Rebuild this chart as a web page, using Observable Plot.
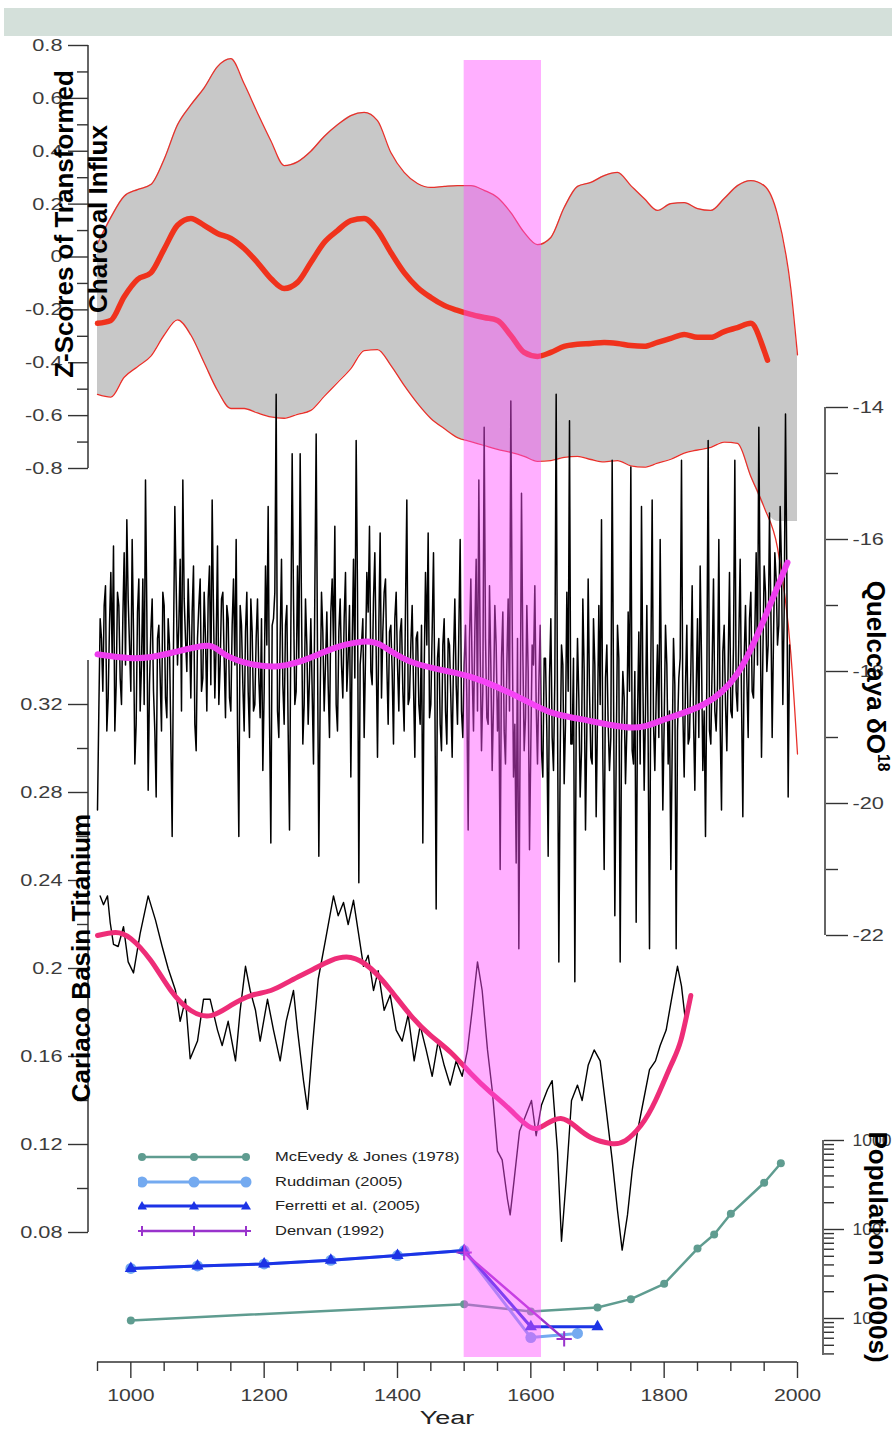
<!DOCTYPE html>
<html><head><meta charset="utf-8">
<script src="https://cdn.jsdelivr.net/npm/d3@7"></script>
<script src="https://cdn.jsdelivr.net/npm/@observablehq/plot@0.6"></script>
<style>
html,body{margin:0;padding:0;background:#fff;}
#wrap{position:relative;width:892px;height:1430px;overflow:hidden;font-family:"Liberation Sans",Arial,Helvetica,sans-serif;}
.topbar{position:absolute;left:4px;top:8px;width:888px;height:28px;background:#d4e0da;}
.rot{position:absolute;white-space:nowrap;font-weight:bold;line-height:1;color:#000;}
.rot sup{font-size:0.6em;line-height:0;vertical-align:0.7em;}
.legrow{position:absolute;height:16px;}
.legrow svg{position:absolute;left:0;top:0;}
.legrow span{position:absolute;left:137px;top:0;font-size:13px;line-height:16px;white-space:nowrap;color:#222;transform:scaleX(1.27);transform-origin:left center;}
.xlabel{position:absolute;font-size:18px;line-height:1;color:#222;white-space:nowrap;}
</style></head>
<body><div id="wrap"><div class="topbar"></div></div>
<script>
// ================= DATA =================
// Charcoal influx z-scores (upper bound, lower bound, mean)
const charcoalYears = [950,970,990,1010,1030,1050,1070,1090,1110,1130,1150,1170,1190,1210,1230,1250,1270,1290,1310,1330,1350,1370,1390,1410,1430,1450,1470,1490,1510,1530,1550,1570,1590,1610,1630,1650,1670,1690,1710,1730,1750,1770,1790,1810,1830,1850,1870,1890,1910,1930,1950,1970,1990,2000];
const charcoalUpper = [0.05,0.15,0.23,0.255,0.274,0.37,0.50,0.575,0.64,0.72,0.75,0.655,0.545,0.44,0.346,0.36,0.40,0.456,0.50,0.535,0.547,0.516,0.395,0.32,0.278,0.263,0.267,0.27,0.27,0.252,0.225,0.168,0.093,0.047,0.074,0.187,0.267,0.282,0.308,0.32,0.27,0.221,0.176,0.202,0.206,0.183,0.176,0.221,0.27,0.289,0.27,0.16,-0.12,-0.37];
const charcoalLower = [-0.52,-0.53,-0.455,-0.415,-0.375,-0.295,-0.238,-0.295,-0.40,-0.505,-0.573,-0.573,-0.59,-0.605,-0.61,-0.595,-0.58,-0.527,-0.475,-0.422,-0.354,-0.35,-0.41,-0.486,-0.554,-0.611,-0.649,-0.683,-0.698,-0.713,-0.728,-0.739,-0.754,-0.773,-0.77,-0.758,-0.754,-0.766,-0.775,-0.77,-0.79,-0.795,-0.78,-0.765,-0.742,-0.73,-0.72,-0.70,-0.705,-0.83,-0.947,-1.10,-1.50,-1.88];
const charcoalMeanYears = [950,970,990,1010,1030,1050,1070,1090,1110,1130,1150,1170,1190,1210,1230,1250,1270,1290,1310,1330,1350,1370,1390,1410,1430,1450,1470,1490,1510,1530,1550,1570,1590,1610,1630,1650,1670,1690,1710,1730,1750,1770,1790,1810,1830,1850,1870,1890,1910,1930,1950,1955];
const charcoalMean = [-0.251,-0.24,-0.15,-0.085,-0.06,0.03,0.12,0.146,0.12,0.089,0.07,0.032,-0.021,-0.081,-0.119,-0.096,-0.021,0.055,0.10,0.138,0.146,0.10,0.017,-0.059,-0.115,-0.153,-0.183,-0.202,-0.217,-0.229,-0.24,-0.297,-0.361,-0.376,-0.361,-0.338,-0.33,-0.327,-0.323,-0.327,-0.335,-0.338,-0.323,-0.308,-0.293,-0.304,-0.304,-0.282,-0.267,-0.251,-0.354,-0.39];
const charcoalFillFloor = -1.0;

// Quelccaya delta O18 (raw, two interleaved readings) and smooth
const quelYears = [
950,954,958,962,966,970,974,978,982,986,
990,994,998,1002,1006,1010,1014,1018,1022,1026,
1030,1034,1038,1042,1046,1050,1054,1058,1062,1066,
1070,1074,1078,1082,1086,1090,1094,1098,1102,1106,
1110,1114,1118,1122,1126,1130,1134,1138,1142,1146,
1150,1154,1158,1162,1166,1170,1174,1178,1182,1186,
1190,1194,1198,1202,1206,1210,1214,1218,1222,1226,
1230,1234,1238,1242,1246,1250,1254,1258,1262,1266,
1270,1274,1278,1282,1286,1290,1294,1298,1302,1306,
1310,1314,1318,1322,1326,1330,1334,1338,1342,1346,
1350,1354,1358,1362,1366,1370,1374,1378,1382,1386,
1390,1394,1398,1402,1406,1410,1414,1418,1422,1426,
1430,1434,1438,1442,1446,1450,1454,1458,1462,1466,
1470,1474,1478,1482,1486,1490,1494,1498,1502,1506,
1510,1514,1518,1522,1526,1530,1534,1538,1542,1546,
1550,1554,1558,1562,1566,1570,1574,1578,1582,1586,
1590,1594,1598,1602,1606,1610,1614,1618,1622,1626,
1630,1634,1638,1642,1646,1650,1654,1658,1662,1666,
1670,1674,1678,1682,1686,1690,1694,1698,1702,1706,
1710,1714,1718,1722,1726,1730,1734,1738,1742,1746,
1750,1754,1758,1762,1766,1770,1774,1778,1782,1786,
1790,1794,1798,1802,1806,1810,1814,1818,1822,1826,
1830,1834,1838,1842,1846,1850,1854,1858,1862,1866,
1870,1874,1878,1882,1886,1890,1894,1898,1902,1906,
1910,1914,1918,1922,1926,1930,1934,1938,1942,1946,
1950,1954,1958,1962,1966,1970,1974,1978,1982,1986];
const quelValues = [
-20.1,-17.2,-18.3,-16.7,-18.4,-16.5,-16.1,-18.2,-17.0,-18.5,
-16.2,-15.7,-17.6,-16.0,-19.4,-17.1,-18.6,-16.6,-15.1,-19.8,
-17.4,-18.3,-19.9,-17.3,-18.9,-17.0,-18.7,-17.6,-20.5,-15.5,
-17.9,-16.3,-15.1,-17.5,-16.6,-18.4,-16.4,-19.2,-17.0,-18.3,
-16.8,-18.6,-16.4,-15.4,-18.4,-16.1,-17.9,-16.8,-18.7,-17.2,
-18.6,-16.6,-16.0,-20.5,-17.3,-18.9,-16.8,-19.0,-17.4,-18.5,
-16.9,-18.7,-19.5,-16.4,-15.5,-20.6,-17.2,-13.8,-19.0,-16.3,
-18.8,-17.0,-20.4,-14.7,-18.5,-16.4,-14.7,-19.1,-16.9,-18.8,
-17.2,-19.4,-14.4,-20.8,-16.8,-18.6,-17.1,-19.0,-16.6,-15.8,
-18.9,-16.9,-18.4,-16.5,-17.8,-19.6,-16.3,-14.5,-21.2,-17.6,
-19.0,-16.5,-15.8,-18.2,-16.2,-19.3,-15.9,-17.4,-16.6,-18.8,
-17.3,-19.1,-16.8,-18.6,-17.2,-18.9,-15.4,-18.4,-17.0,-19.3,
-17.4,-18.8,-20.6,-16.5,-15.9,-18.5,-16.2,-21.6,-17.5,-19.2,
-17.2,-19.1,-17.6,-19.3,-16.9,-18.8,-16.0,-19.0,-17.3,-20.4,
-16.6,-18.9,-16.3,-15.1,-19.2,-14.3,-18.7,-16.7,-19.5,-17.0,
-18.9,-21.0,-17.1,-19.4,-16.9,-13.9,-19.6,-20.9,-22.2,-15.3,
-19.2,-17.0,-20.7,-17.6,-16.7,-19.4,-17.3,-19.6,-17.8,-20.8,
-17.2,-19.5,-13.8,-22.4,-17.6,-19.7,-16.8,-14.2,-19.1,-22.7,
-17.5,-19.9,-16.9,-20.4,-16.6,-19.3,-17.2,-20.2,-17.0,-15.7,
-21.0,-17.6,-19.5,-14.8,-21.7,-17.3,-22.4,-18.0,-19.7,-17.1,
-14.9,-19.4,-21.8,-17.4,-15.5,-19.8,-17.0,-22.2,-15.4,-19.5,
-17.6,-16.0,-20.1,-17.3,-19.4,-21.0,-17.5,-22.2,-18.1,-14.8,
-19.6,-17.3,-19.0,-16.7,-19.8,-17.2,-16.4,-19.5,-20.5,-14.5,
-19.1,-16.6,-18.9,-16.0,-20.1,-17.3,-19.2,-16.5,-18.7,-14.8,
-18.6,-16.3,-20.2,-17.0,-19.0,-16.8,-18.4,-16.2,-14.3,-19.3,
-16.4,-18.0,-15.6,-19.0,-16.2,-17.6,-15.5,-18.5,-14.1,-19.9];
const quelYearsB = [
952,956,960,964,968,972,976,980,984,988,
992,996,1000,1004,1008,1012,1016,1020,1024,1028,
1032,1036,1040,1044,1048,1052,1056,1060,1064,1068,
1072,1076,1080,1084,1088,1092,1096,1100,1104,1108,
1112,1116,1120,1124,1128,1132,1136,1140,1144,1148,
1152,1156,1160,1164,1168,1172,1176,1180,1184,1188,
1192,1196,1200,1204,1208,1212,1216,1220,1224,1228,
1232,1236,1240,1244,1248,1252,1256,1260,1264,1268,
1272,1276,1280,1284,1288,1292,1296,1300,1304,1308,
1312,1316,1320,1324,1328,1332,1336,1340,1344,1348,
1352,1356,1360,1364,1368,1372,1376,1380,1384,1388,
1392,1396,1400,1404,1408,1412,1416,1420,1424,1428,
1432,1436,1440,1444,1448,1452,1456,1460,1464,1468,
1472,1476,1480,1484,1488,1492,1496,1500,1504,1508,
1512,1516,1520,1524,1528,1532,1536,1540,1544,1548,
1552,1556,1560,1564,1568,1572,1576,1580,1584,1588,
1592,1596,1600,1604,1608,1612,1616,1620,1624,1628,
1632,1636,1640,1644,1648,1652,1656,1660,1664,1668,
1672,1676,1680,1684,1688,1692,1696,1700,1704,1708,
1712,1716,1720,1724,1728,1732,1736,1740,1744,1748,
1752,1756,1760,1764,1768,1772,1776,1780,1784,1788,
1792,1796,1800,1804,1808,1812,1816,1820,1824,1828,
1832,1836,1840,1844,1848,1852,1856,1860,1864,1868,
1872,1876,1880,1884,1888,1892,1896,1900,1904,1908,
1912,1916,1920,1924,1928,1932,1936,1940,1944,1948,
1952,1956,1960,1964,1968,1972,1976,1980,1984,1988];
const quelValuesB = [
-18.6,-17.5,-17.0,-18.9,-17.3,-17.8,-18.9,-16.8,-18.1,-17.2,
-17.9,-16.9,-18.3,-17.4,-18.8,-16.6,-17.9,-18.5,-17.1,-18.2,
-16.9,-18.9,-17.5,-18.1,-16.8,-18.4,-17.2,-19.0,-17.6,-16.7,
-17.3,-18.6,-16.9,-18.0,-17.4,-17.1,-18.8,-17.5,-16.6,-18.1,
-17.5,-16.9,-18.2,-17.1,-17.6,-18.5,-16.9,-17.8,-17.0,-18.4,
-17.3,-17.9,-18.8,-17.0,-18.2,-17.4,-18.3,-16.9,-18.6,-17.5,
-18.1,-17.2,-18.3,-17.6,-18.7,-17.3,-16.8,-18.6,-17.5,-18.2,
-17.3,-18.9,-17.4,-16.9,-18.3,-17.8,-17.0,-18.5,-17.6,-18.1,
-18.3,-16.8,-17.7,-18.4,-17.4,-17.9,-18.2,-17.1,-17.6,-18.5,
-17.4,-17.9,-17.2,-18.3,-17.0,-17.6,-18.1,-16.8,-17.9,-17.2,
-17.8,-17.1,-18.0,-16.9,-17.7,-17.3,-18.4,-16.8,-17.9,-17.4,
-18.0,-17.2,-17.9,-17.4,-18.3,-17.0,-18.5,-17.6,-18.2,-17.5,
-18.5,-17.3,-18.0,-17.6,-18.7,-17.4,-18.3,-17.8,-18.8,-17.6,
-18.6,-17.5,-18.4,-17.8,-18.2,-17.4,-18.6,-17.9,-18.4,-17.5,
-18.0,-17.4,-18.6,-17.7,-18.3,-17.5,-18.8,-17.9,-18.5,-17.6,
-18.3,-17.8,-18.9,-17.9,-18.6,-17.2,-18.8,-17.5,-18.9,-17.7,
-18.7,-18.0,-19.1,-17.9,-18.5,-18.2,-19.2,-17.8,-18.9,-18.1,
-19.0,-18.1,-18.6,-19.3,-17.9,-18.8,-18.3,-19.1,-17.8,-18.9,
-18.4,-19.2,-18.0,-18.9,-18.3,-19.4,-17.9,-18.7,-18.5,-19.3,
-18.1,-18.8,-19.0,-18.2,-19.3,-17.8,-19.1,-18.4,-18.9,-18.3,
-19.2,-18.0,-18.7,-19.4,-18.1,-18.6,-19.1,-17.9,-18.8,-18.4,
-19.0,-18.3,-18.8,-17.9,-18.6,-19.2,-18.2,-18.9,-17.8,-18.6,
-18.2,-19.1,-18.0,-18.7,-18.3,-19.0,-17.8,-18.6,-18.1,-18.9,
-17.9,-18.6,-18.2,-18.8,-17.7,-18.5,-17.9,-18.6,-17.6,-18.3,
-17.5,-18.4,-17.8,-18.1,-17.2,-18.3,-17.4,-17.9,-17.0,-17.8,
-16.8,-17.6,-17.0,-17.5,-16.6,-17.3,-16.4,-17.1,-16.5,-17.6];
const quelSmoothYears = [950,1007,1060,1116,1146,1221,1296,1347,1377,1422,1487,1529,1580,1630,1679,1750,1799,1859,1910,1949,1985];
const quelSmooth = [-17.74,-17.80,-17.72,-17.61,-17.77,-17.92,-17.68,-17.55,-17.61,-17.86,-18.02,-18.15,-18.38,-18.62,-18.73,-18.85,-18.73,-18.50,-18.03,-17.23,-16.35];

// Cariaco Basin titanium (raw) and smooth
const cariacoYears = [954,959,965,969,974,981,989,996,1004,1014,1026,1037,1047,1056,1067,1074,1082,1089,1100,1109,1119,1130,1137,1146,1157,1164,1172,1179,1187,1194,1205,1214,1224,1233,1244,1250,1259,1265,1272,1281,1292,1304,1311,1319,1326,1334,1341,1349,1356,1364,1371,1380,1389,1398,1407,1416,1425,1434,1443,1452,1461,1470,1479,1488,1497,1505,1512,1520,1527,1535,1542,1550,1557,1565,1569,1575,1583,1592,1601,1608,1616,1625,1632,1640,1646,1653,1661,1670,1677,1686,1695,1704,1713,1722,1730,1737,1745,1752,1760,1769,1778,1787,1794,1803,1811,1820,1826,1832,1839];
const cariacoValues = [0.233,0.229,0.233,0.221,0.211,0.210,0.219,0.203,0.198,0.216,0.233,0.222,0.210,0.200,0.190,0.176,0.186,0.159,0.167,0.186,0.186,0.172,0.165,0.176,0.158,0.181,0.201,0.190,0.181,0.167,0.186,0.172,0.158,0.176,0.190,0.172,0.149,0.136,0.163,0.195,0.213,0.233,0.224,0.230,0.220,0.231,0.217,0.201,0.206,0.190,0.199,0.181,0.188,0.172,0.167,0.179,0.158,0.174,0.163,0.151,0.167,0.156,0.147,0.158,0.151,0.163,0.181,0.203,0.190,0.163,0.145,0.117,0.113,0.095,0.088,0.104,0.126,0.133,0.140,0.124,0.138,0.145,0.149,0.117,0.076,0.104,0.140,0.147,0.140,0.156,0.163,0.158,0.136,0.113,0.090,0.072,0.088,0.108,0.126,0.140,0.154,0.158,0.165,0.172,0.186,0.201,0.192,0.176,0.186];
const cariacoSmoothYears = [950,977,1000,1030,1060,1090,1120,1150,1180,1210,1240,1270,1300,1330,1360,1390,1420,1450,1480,1510,1540,1570,1600,1622,1645,1667,1690,1720,1742,1765,1787,1810,1825,1840];
const cariacoSmooth = [0.215,0.2164,0.2136,0.2036,0.19,0.1809,0.1786,0.1832,0.1877,0.19,0.1945,0.1991,0.2036,0.205,0.2,0.19,0.1786,0.1695,0.1618,0.1523,0.1436,0.1355,0.1277,0.1291,0.1318,0.1282,0.1232,0.1205,0.1218,0.1286,0.14,0.1559,0.1673,0.1877];

// Population estimates
const mcYears = [1000,1500,1600,1700,1750,1800,1850,1875,1900,1950,1975];
const mcPop = [9.5,14.5,12,13.3,16.5,24.5,61,88,150,335,555];
const rudYears = [1000,1100,1200,1300,1400,1500,1600,1670];
const rudPop = [36.5,39,41,45,51,58,6.1,6.8];
const ferYears = [1000,1100,1200,1300,1400,1500,1600,1700];
const ferPop = [36.5,39,41,45,51,58,8.1,8.1];
const denYears = [1500,1650];
const denPop = [55,5.9];
const popNames = ["McEvedy & Jones (1978)","Ruddiman (2005)","Ferretti et al. (2005)","Denvan (1992)"];
const popColors = ["#5f9c90","#74aaf0","#1c33e6","#9933cc"];

// Highlight band (years)
const bandStart = 1500, bandEnd = 1616;

// Ticks
const zMajor = [-0.8,-0.6,-0.4,-0.2,0,0.2,0.4,0.6,0.8];
const zMinor = [-0.7,-0.5,-0.3,-0.1,0.1,0.3,0.5,0.7];
const qMajor = [-22,-20,-18,-16,-14];
const qMinor = [-21,-19,-17,-15];
const tiMajor = [0.08,0.12,0.16,0.2,0.24,0.28,0.32];
const tiMinor = [0.1,0.14,0.18,0.22,0.26,0.3];
const popMajor = [10,100,1000];
const popMinor = [4,5,6,7,8,9,20,30,40,50,60,70,80,90,200,300,400,500,600,700,800,900];
const yearMajor = [1000,1200,1400,1600,1800,2000];
const yearMinor = [950,1050,1100,1150,1250,1300,1350,1450,1500,1550,1650,1700,1750,1850,1900,1950];

// ================= RENDER =================
const wrap = document.getElementById("wrap");
const FONT = '"Liberation Sans", Arial, Helvetica, sans-serif';
const W = 892, H = 1430;
const X = {domain: [950, 2000], range: [97, 797]};
const AX = "#333";

function addLayer(opts) {
  const svg = Plot.plot(Object.assign({
    width: W, height: H,
    style: {background: "transparent", overflow: "visible", fontFamily: FONT, color: AX}
  }, opts));
  svg.style.position = "absolute"; svg.style.left = "0px"; svg.style.top = "0px";
  wrap.appendChild(svg);
  return svg;
}
function stretchLabels(svg, s) {
  svg.querySelectorAll('g[aria-label*="tick label"] text').forEach(t => {
    const tr = t.getAttribute("transform");
    if (tr) t.setAttribute("transform", tr + ` scale(${s},1)`);
    else {
      const x = +t.getAttribute("x") || 0, y = +t.getAttribute("y") || 0;
      t.removeAttribute("x"); t.removeAttribute("y");
      t.setAttribute("transform", `translate(${x},${y}) scale(${s},1)`);
    }
    t.setAttribute("fill", "#3c3c3c");
  });
}
function vAxisLine(svg, xpos) {
  const r = svg.scale("y").range;
  d3.select(svg).append("line").attr("x1", xpos).attr("x2", xpos)
    .attr("y1", r[0]).attr("y2", r[1]).attr("stroke", AX).attr("stroke-width", 1.5);
}
function hAxisLine(svg, ypos) {
  const r = svg.scale("x").range;
  d3.select(svg).append("line").attr("y1", ypos).attr("y2", ypos)
    .attr("x1", r[0]).attr("x2", r[1]).attr("stroke", AX).attr("stroke-width", 1.5);
}
const noLabel = () => "";
const fmt = d => String(d);

// --- Panel 1: charcoal ---
const charcoalRows = charcoalYears.map((y, i) => ({year: y, upper: charcoalUpper[i], lower: charcoalLower[i], floor: Math.max(charcoalLower[i], charcoalFillFloor)}));
const meanRows = charcoalMeanYears.map((y, i) => ({year: y, mean: charcoalMean[i]}));
const p1 = addLayer({
  marginLeft: 88, marginRight: 95, marginTop: 45, marginBottom: H - 468,
  x: {...X, axis: null},
  y: {domain: [-0.8, 0.8], range: [468, 45]},
  marks: [
    Plot.areaY(charcoalRows, {x: "year", y1: "floor", y2: "upper", fill: "#c8c8c8", curve: "monotone-x"}),
    Plot.line(charcoalRows, {x: "year", y: "upper", stroke: "#e8302a", strokeWidth: 1.3, curve: "monotone-x"}),
    Plot.line(charcoalRows, {x: "year", y: "lower", stroke: "#e8302a", strokeWidth: 1.3, curve: "monotone-x"}),
    Plot.line(meanRows, {x: "year", y: "mean", stroke: "#f0321c", strokeWidth: 5.5, curve: "monotone-x"}),
    Plot.axisY(zMinor, {anchor: "left", tickSize: 11, tickFormat: noLabel, strokeWidth: 1.4, label: null}),
    Plot.axisY(zMajor, {anchor: "left", tickSize: 20, tickPadding: 6, tickFormat: fmt, fontSize: 17, strokeWidth: 1.4, label: null})
  ]
});
vAxisLine(p1, 88); stretchLabels(p1, 1.28);

// --- Panel 2: Quelccaya ---
const quelRows = quelYears.map((y, i) => ({year: y, d18o: quelValues[i]}))
  .concat(quelYearsB.map((y, i) => ({year: y, d18o: quelValuesB[i]})))
  .sort((a, b) => a.year - b.year);
const quelSmoothRows = quelSmoothYears.map((y, i) => ({year: y, d18o: quelSmooth[i]}));
const p2 = addLayer({
  marginLeft: 97, marginRight: W - 825, marginTop: 407, marginBottom: H - 935,
  x: {...X, axis: null},
  y: {domain: [-22, -14], range: [935, 407]},
  marks: [
    Plot.line(quelRows, {x: "year", y: "d18o", stroke: "#000", strokeWidth: 1.5}),
    Plot.line(quelSmoothRows, {x: "year", y: "d18o", stroke: "#ee3cee", strokeWidth: 6, curve: "natural"}),
    Plot.axisY(qMinor, {anchor: "right", tickSize: 12, tickFormat: noLabel, strokeWidth: 1.4, label: null}),
    Plot.axisY(qMajor, {anchor: "right", tickSize: 22, tickPadding: 5, tickFormat: fmt, fontSize: 17, strokeWidth: 1.4, label: null})
  ]
});
vAxisLine(p2, 825); stretchLabels(p2, 1.28);

// --- Panel 3: Cariaco titanium ---
const cariacoRows = cariacoYears.map((y, i) => ({year: y, ti: cariacoValues[i]}));
const cariacoSmoothRows = cariacoSmoothYears.map((y, i) => ({year: y, ti: cariacoSmooth[i]}));
const p3 = addLayer({
  marginLeft: 88, marginRight: 95, marginTop: 660, marginBottom: H - 1232,
  x: {...X, axis: null},
  y: {domain: [0.08, 0.34], range: [1232, 660]},
  marks: [
    Plot.line(cariacoRows, {x: "year", y: "ti", stroke: "#000", strokeWidth: 1.4}),
    Plot.line(cariacoSmoothRows, {x: "year", y: "ti", stroke: "#ee2d78", strokeWidth: 5, curve: "natural"}),
    Plot.axisY(tiMinor, {anchor: "left", tickSize: 11, tickFormat: noLabel, strokeWidth: 1.4, label: null}),
    Plot.axisY(tiMajor, {anchor: "left", tickSize: 20, tickPadding: 6, tickFormat: fmt, fontSize: 17, strokeWidth: 1.4, label: null})
  ]
});
vAxisLine(p3, 88); stretchLabels(p3, 1.28);

// --- Panel 4: population + x axis ---
const mk = (ys, vs) => ys.map((y, i) => ({year: y, pop: vs[i]}));
const mcRows = mk(mcYears, mcPop), rudRows = mk(rudYears, rudPop), ferRows = mk(ferYears, ferPop), denRows = mk(denYears, denPop);
const p4 = addLayer({
  marginLeft: 97, marginRight: W - 823, marginTop: 1140, marginBottom: H - 1362,
  x: X,
  y: {type: "log", domain: [3.84, 1000], range: [1355, 1140]},
  marks: [
    Plot.line(mcRows, {x: "year", y: "pop", stroke: popColors[0], strokeWidth: 2.5}),
    Plot.dot(mcRows, {x: "year", y: "pop", fill: popColors[0], r: 4}),
    Plot.line(rudRows, {x: "year", y: "pop", stroke: popColors[1], strokeWidth: 3}),
    Plot.dot(rudRows, {x: "year", y: "pop", fill: popColors[1], r: 5.5}),
    Plot.line(ferRows, {x: "year", y: "pop", stroke: popColors[2], strokeWidth: 3}),
    Plot.dot(ferRows, {x: "year", y: "pop", fill: popColors[2], symbol: "triangle", r: 4.5}),
    Plot.line(denRows, {x: "year", y: "pop", stroke: popColors[3], strokeWidth: 2.5}),
    Plot.dot(denRows, {x: "year", y: "pop", stroke: popColors[3], symbol: "plus", r: 5, strokeWidth: 2}),
    Plot.axisY(popMinor, {anchor: "right", tickSize: 10, tickFormat: noLabel, strokeWidth: 1.4, label: null}),
    Plot.axisY(popMajor, {anchor: "right", tickSize: 20, tickPadding: 9, tickFormat: fmt, fontSize: 17, strokeWidth: 1.4, label: null}),
    Plot.axisX(yearMinor, {anchor: "bottom", tickSize: 9, tickFormat: noLabel, strokeWidth: 1.4, label: null}),
    Plot.axisX(yearMajor, {anchor: "bottom", tickSize: 16, tickPadding: 10, tickFormat: fmt, fontSize: 17, strokeWidth: 1.4, label: null})
  ]
});
vAxisLine(p4, 823); hAxisLine(p4, 1362);
// y tick labels of the population axis are narrower than the x labels
p4.querySelectorAll('g[aria-label="y-axis tick label"] text').forEach(t => t.setAttribute("data-s", "1"));
(function () {
  p4.querySelectorAll('g[aria-label*="tick label"] text').forEach(t => {
    const s = t.getAttribute("data-s") ? 1.03 : 1.25;
    const tr = t.getAttribute("transform");
    if (tr) t.setAttribute("transform", tr + ` scale(${s},1)`);
    else {
      const x = +t.getAttribute("x") || 0, y = +t.getAttribute("y") || 0;
      t.removeAttribute("x"); t.removeAttribute("y");
      t.setAttribute("transform", `translate(${x},${y}) scale(${s},1)`);
    }
    t.setAttribute("fill", "#3c3c3c");
  });
})();

// --- Highlight band on top ---
addLayer({
  marginLeft: 97, marginRight: 95, marginTop: 60, marginBottom: H - 1357,
  x: {...X, axis: null},
  marks: [Plot.rect([{start: bandStart, end: bandEnd}], {x1: "start", x2: "end", fill: "#ff4dff", fillOpacity: 0.45})]
});

// --- Legend (HTML) ---
const legendTop = [1149, 1174, 1198, 1223];
popNames.forEach((name, i) => {
  const row = document.createElement("div");
  row.className = "legrow";
  row.style.left = "138px"; row.style.top = legendTop[i] + "px";
  const c = popColors[i];
  let m = "";
  [4, 56, 108].forEach(cx => {
    if (i === 0) m += `<circle cx="${cx}" cy="8" r="4" fill="${c}"/>`;
    else if (i === 1) m += `<circle cx="${cx}" cy="8" r="5.5" fill="${c}"/>`;
    else if (i === 2) m += `<path d="M${cx},3 L${cx+5},11.5 L${cx-5},11.5 Z" fill="${c}"/>`;
    else m += `<path d="M${cx-5},8 H${cx+5} M${cx},3 V13" stroke="${c}" stroke-width="2"/>`;
  });
  row.innerHTML = `<svg width="114" height="16"><line x1="4" y1="8" x2="108" y2="8" stroke="${c}" stroke-width="${i === 0 || i === 3 ? 2.5 : 3}"/>${m}</svg><span></span>`;
  row.querySelector("span").textContent = name;
  wrap.appendChild(row);
});

// --- Titles ---
function title(html, cx, cy, size, rot) {
  const d = document.createElement("div");
  d.className = "rot"; d.innerHTML = html;
  d.style.left = cx + "px"; d.style.top = cy + "px"; d.style.fontSize = size + "px";
  d.style.transform = `translate(-50%,-50%) rotate(${rot}deg)`;
  wrap.appendChild(d);
}
title("Z-Scores of Transformed", 64, 224, 26, -90);
title("Charcoal Influx", 98, 219, 26, -90);
title("Cariaco Basin Titanium", 81, 958, 26, -90);
title("Quelccaya δO<sup>18</sup>", 876, 676, 26, 90);
title("Population (1000s)", 878, 1247, 26, 90);

const xl = document.createElement("div");
xl.className = "xlabel"; xl.textContent = "Year";
xl.style.left = "447px"; xl.style.top = "1418px";
xl.style.transform = "translate(-50%,-50%) scaleX(1.5)";
wrap.appendChild(xl);
</script>
</body></html>
